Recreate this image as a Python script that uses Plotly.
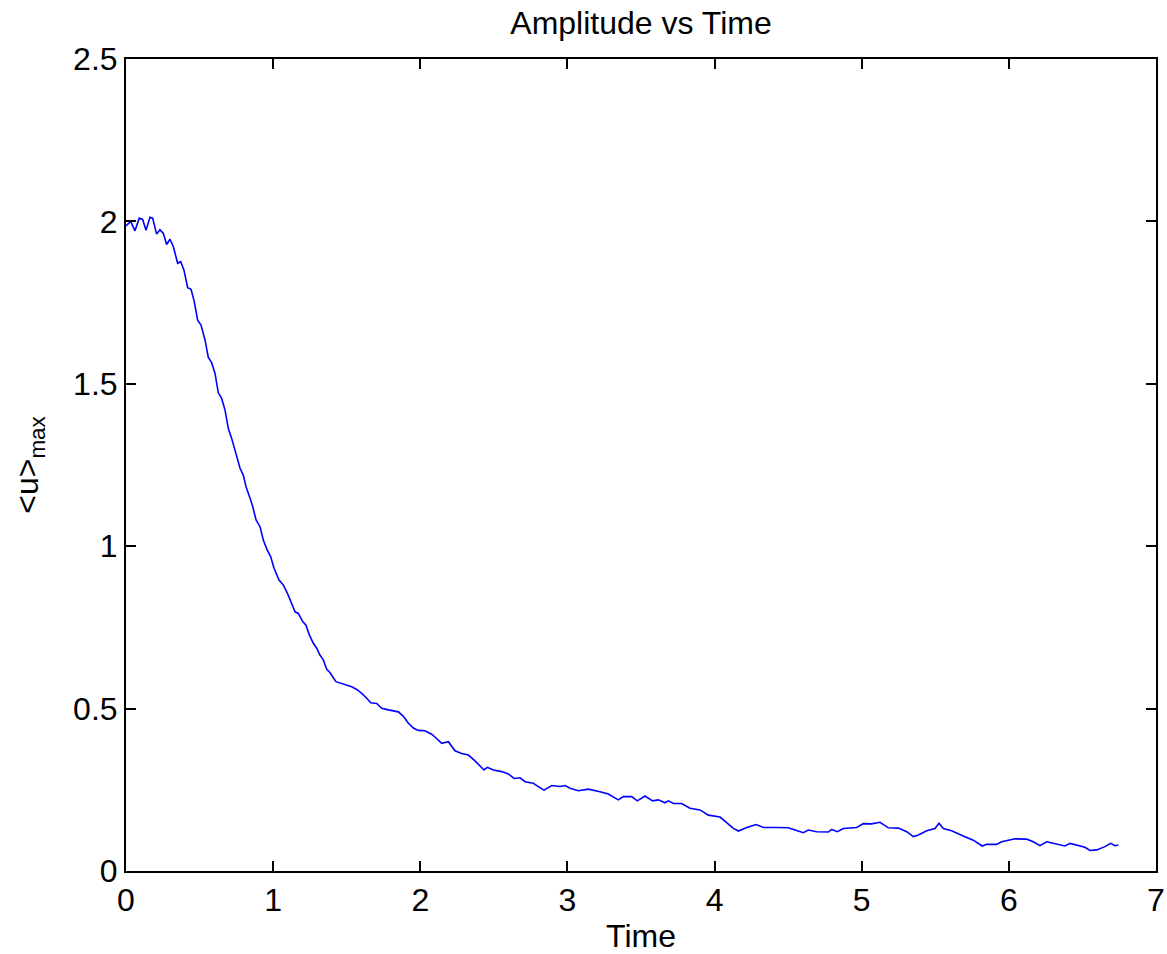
import plotly.graph_objects as go

time = [0, 0.032, 0.061, 0.09, 0.113, 0.136, 0.163, 0.181, 0.208, 0.231, 0.254, 0.276, 0.299, 0.322, 0.351, 0.372,
        0.394, 0.419, 0.442, 0.464, 0.487, 0.510, 0.537, 0.559, 0.582, 0.605, 0.627, 0.650, 0.673, 0.695, 0.718,
        0.752, 0.775, 0.797, 0.816, 0.843, 0.861, 0.884, 0.911, 0.933, 0.960, 0.983, 1.006, 1.040, 1.069, 1.097,
        1.126, 1.149, 1.171, 1.201, 1.223, 1.246, 1.273, 1.296, 1.318, 1.341, 1.364, 1.386, 1.427, 1.477, 1.534,
        1.568, 1.602, 1.636, 1.663, 1.704, 1.738, 1.783, 1.817, 1.851, 1.885, 1.919, 1.953, 1.987, 2.032, 2.077,
        2.111, 2.145, 2.191, 2.236, 2.281, 2.327, 2.372, 2.406, 2.433, 2.456, 2.497, 2.553, 2.599, 2.637, 2.678,
        2.712, 2.768, 2.802, 2.841, 2.893, 2.950, 2.984, 3.018, 3.074, 3.142, 3.221, 3.278, 3.346, 3.380, 3.437,
        3.475, 3.527, 3.579, 3.618, 3.663, 3.686, 3.720, 3.776, 3.833, 3.901, 3.958, 4.037, 4.094, 4.128, 4.162,
        4.219, 4.282, 4.332, 4.422, 4.501, 4.547, 4.603, 4.637, 4.694, 4.773, 4.796, 4.834, 4.875, 4.966, 5.011,
        5.068, 5.124, 5.181, 5.249, 5.306, 5.351, 5.385, 5.442, 5.498, 5.525, 5.555, 5.611, 5.690, 5.758, 5.819,
        5.849, 5.917, 5.951, 6.042, 6.121, 6.166, 6.211, 6.257, 6.336, 6.381, 6.416, 6.472, 6.517, 6.551, 6.597,
        6.653, 6.692, 6.721, 6.744]

amplitude = [1.986, 2.000, 1.971, 2.010, 2.006, 1.973, 2.013, 2.010, 1.961, 1.974, 1.963, 1.929, 1.945, 1.922, 1.871,
             1.876, 1.850, 1.796, 1.791, 1.753, 1.696, 1.681, 1.635, 1.582, 1.565, 1.532, 1.473, 1.455, 1.419, 1.363,
             1.332, 1.276, 1.240, 1.219, 1.183, 1.148, 1.122, 1.081, 1.060, 1.019, 0.988, 0.968, 0.932, 0.896, 0.881,
             0.855, 0.824, 0.798, 0.793, 0.768, 0.757, 0.727, 0.701, 0.686, 0.665, 0.650, 0.621, 0.611, 0.583, 0.576,
             0.567, 0.559, 0.547, 0.532, 0.518, 0.516, 0.501, 0.496, 0.494, 0.490, 0.476, 0.455, 0.440, 0.433, 0.432,
             0.421, 0.408, 0.393, 0.398, 0.370, 0.362, 0.357, 0.339, 0.323, 0.311, 0.319, 0.311, 0.306, 0.299, 0.285,
             0.287, 0.275, 0.270, 0.260, 0.249, 0.263, 0.260, 0.263, 0.255, 0.247, 0.252, 0.244, 0.237, 0.219, 0.229,
             0.229, 0.216, 0.231, 0.216, 0.219, 0.210, 0.216, 0.208, 0.208, 0.193, 0.188, 0.172, 0.166, 0.145, 0.131,
             0.123, 0.134, 0.143, 0.134, 0.134, 0.133, 0.126, 0.118, 0.126, 0.121, 0.120, 0.128, 0.121, 0.131, 0.134,
             0.146, 0.145, 0.150, 0.133, 0.132, 0.121, 0.106, 0.111, 0.124, 0.131, 0.147, 0.131, 0.124, 0.108, 0.095,
             0.077, 0.082, 0.082, 0.090, 0.099, 0.098, 0.090, 0.078, 0.090, 0.083, 0.077, 0.085, 0.078, 0.073, 0.063,
             0.065, 0.075, 0.085, 0.078, 0.080]

x_ticks = [0, 1, 2, 3, 4, 5, 6, 7]
y_ticks = [0, 0.5, 1, 1.5, 2, 2.5]
y_tick_text = ["0", "0.5", "1", "1.5", "2", "2.5"]

FONT = "Liberation Sans, Arial, Helvetica, sans-serif"
FS = 32

fig = go.Figure()
fig.add_trace(go.Scatter(x=time, y=amplitude, mode="lines",
                         line=dict(color="#0000ff", width=1.6), showlegend=False))

axis_common = dict(showline=True, linecolor="black", linewidth=2, mirror="ticks",
                   ticks="inside", ticklen=10, tickwidth=1.5, tickcolor="black",
                   showgrid=False, zeroline=False, automargin=False,
                   tickfont=dict(family=FONT, size=FS, color="black"))

fig.update_xaxes(range=[0, 7], tickvals=x_ticks, ticktext=[str(v) for v in x_ticks],
                 title=dict(text="Time", font=dict(family=FONT, size=FS, color="black"), standoff=8),
                 **axis_common)
fig.update_yaxes(range=[0, 2.5], tickvals=y_ticks, ticktext=y_tick_text,
                 title=dict(text="&lt;u&gt;<sub>max</sub>", font=dict(family=FONT, size=FS, color="black"), standoff=25),
                 **axis_common)

fig.update_layout(
    width=1167, height=954,
    margin=dict(l=126, r=11, t=59, b=83, pad=0, autoexpand=False),
    paper_bgcolor="white", plot_bgcolor="white",
    title=dict(text="Amplitude vs Time", x=(126 + 1156) / 2 / 1167, xanchor="center",
               y=1 - 23 / 954, yanchor="middle", yref="container",
               font=dict(family=FONT, size=FS, color="black")),
    font=dict(family=FONT, color="black"),
)

fig.write_html("out.html")
